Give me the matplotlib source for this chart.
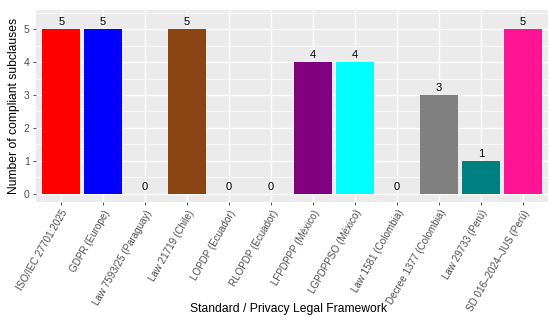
import matplotlib
matplotlib.use("Agg")
import matplotlib.pyplot as plt
import numpy as np
from matplotlib.ticker import MultipleLocator

plt.rcParams['font.family'] = ['Liberation Sans', 'DejaVu Sans']

frameworks = ['ISO/IEC 27701:2025', 'GDPR (Europe)', 'Law 7593/25 (Paraguay)',
              'Law 21719 (Chile)', 'LOPDP (Ecuador)', 'RLOPDP (Ecuador)',
              'LFPDPPP (México)', 'LGPDPPSO (México)', 'Law 1581 (Colombia)',
              'Decree 1377 (Colombia)', 'Law 29733 (Perú)', 'SD 016–2024–JUS (Perú)']
subclauses = [5, 5, 0, 5, 0, 0, 4, 4, 0, 3, 1, 5]
colors = ['#FF0000', '#0000FF', '#00A000', '#8B4513', '#FFA500', '#FFD700',
          '#800080', '#00FFFF', '#A52A2A', '#808080', '#008080', '#FF1493']

fig = plt.figure(figsize=(5.5, 3.2), dpi=100)
ax = fig.add_axes([36/550, 1 - 202/320, 512/550, 192/320])
ax.set_facecolor('#EBEBEB')

x = np.arange(len(frameworks))
ax.bar(x, subclauses, width=0.9, color=colors, linewidth=0, zorder=2)
for xi, v in zip(x, subclauses):
    ax.text(xi, v + 0.06, str(v), ha='center', va='bottom', fontsize=8, color='black', zorder=3)

ax.set_xlim(-0.6, len(frameworks) - 0.4)
ax.set_ylim(-0.25, 5.58)
ax.yaxis.set_major_locator(MultipleLocator(1))
ax.yaxis.set_minor_locator(MultipleLocator(0.5))
ax.set_xticks(x)
ax.set_xticklabels(frameworks, rotation=60, ha='right', rotation_mode='anchor',
                   fontsize=7.1, color='#4D4D4D')
ax.tick_params(axis='y', labelsize=7.5, labelcolor='#4D4D4D')
ax.tick_params(which='major', length=2.5, width=0.6, color='#333333', pad=2)
ax.tick_params(which='minor', length=0)
ax.grid(which='major', color='white', linewidth=1.0, zorder=0)
ax.grid(which='minor', axis='y', color='white', linewidth=0.5, zorder=0)
ax.set_axisbelow(True)
for s in ax.spines.values():
    s.set_visible(False)

ax.set_ylabel('Number of compliant subclauses', fontsize=8.7, labelpad=3)
fig.text(288/550, 1 - 309/320, 'Standard / Privacy Legal Framework',
         fontsize=8.7, ha='center', va='center')

fig.savefig('out.png', dpi=100)
